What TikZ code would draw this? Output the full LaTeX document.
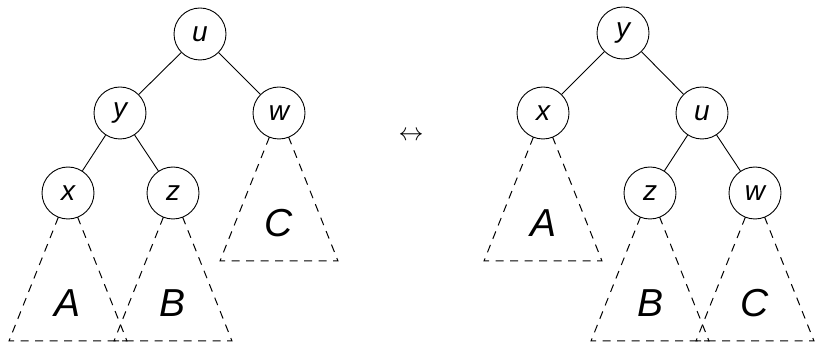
\documentclass[tikz,border=0pt]{standalone}
\usepackage{fontspec}
\setmainfont{Liberation Sans}
\usetikzlibrary{calc}
\begin{document}
\begin{tikzpicture}[x=1pt,y=-1pt,
  treenode/.style={circle,draw,line width=0.9pt,minimum size=52pt,inner sep=0pt,
    font=\fontsize{28}{30}\selectfont\itshape},
  edge/.style={line width=0.9pt},
  subtree/.style={line width=1pt,dash pattern=on 8pt off 6.5pt},
  treelabel/.style={font=\fontsize{39}{42}\selectfont\itshape,inner sep=0pt}]
\useasboundingbox (0,0) rectangle (816,344);

% left tree
\node[treenode] (u1) at (200,34) {u};
\node[treenode] (y1) at (120,113) {y};
\node[treenode] (w1) at (279,113) {w};
\node[treenode] (x1) at (68,193) {x};
\node[treenode] (z1) at (173,193) {z};
\draw[edge] (u1) -- (y1);
\draw[edge] (u1) -- (w1);
\draw[edge] (y1) -- (x1);
\draw[edge] (y1) -- (z1);

% right tree
\node[treenode] (y2) at (623,33) {y};
\node[treenode] (x2) at (543,113) {x};
\node[treenode] (u2) at (702,113) {u};
\node[treenode] (z2) at (650,193) {z};
\node[treenode] (w2) at (755,193) {w};
\draw[edge] (y2) -- (x2);
\draw[edge] (y2) -- (u2);
\draw[edge] (u2) -- (z2);
\draw[edge] (u2) -- (w2);

% dashed subtree hanging below a node: #1 node, #2 name prefix, #3 label
\newcommand{\hangtree}[3]{%
  \coordinate (#2l) at ($(#1)+(-59,148)$);
  \coordinate (#2r) at ($(#1)+(59,148)$);
  \draw[subtree] ($(#1.center)!26pt!(#2l)$) -- (#2l) -- (#2r) -- ($(#1.center)!26pt!(#2r)$);
  \node[treelabel] (#2t) at ($(#1)+(0,110)$) {#3};
}
\hangtree{x1}{a1}{A}
\hangtree{z1}{b1}{B}
\hangtree{w1}{c1}{C}
\hangtree{x2}{a2}{A}
\hangtree{z2}{b2}{B}
\hangtree{w2}{c2}{C}

\node[font=\fontsize{25}{28}\selectfont] (swap) at (411,136) {$\leftrightarrow$};
\end{tikzpicture}
\end{document}
